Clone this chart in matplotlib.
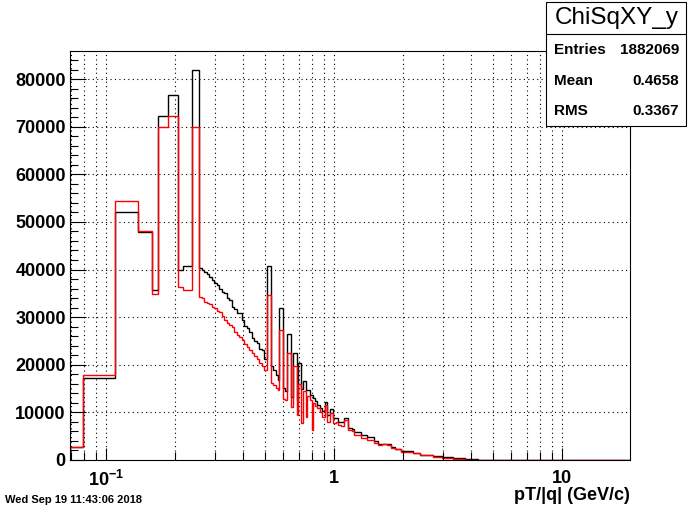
import numpy as np
import matplotlib
matplotlib.use('Agg')
from matplotlib import pyplot as plt
from matplotlib.ticker import FixedLocator, NullFormatter, MultipleLocator

plt.rcParams['font.family'] = ['Liberation Sans', 'DejaVu Sans']
plt.rcParams['mathtext.fontset'] = 'custom'
plt.rcParams['mathtext.rm'] = 'Liberation Sans'
plt.rcParams['mathtext.bf'] = 'Liberation Sans:bold'

# bin edges given as log10(pT/|q|)
coarse_edges = [-1.1579, -1.1009, -0.9605, -0.8596, -0.8004, -0.7732,
                -0.7281, -0.6829, -0.6610, -0.6215, -0.5908]
fine_edges = np.linspace(-0.5908, -0.2947, 28)
tail_edges = [-0.2947, -0.2763, -0.2662, -0.2557, -0.2465, -0.2399, -0.2224,
              -0.2136, -0.2048, -0.1886, -0.1785, -0.1636, -0.1566, -0.1461,
              -0.1373, -0.1241, -0.1171, -0.1066, -0.0978, -0.0934, -0.0833,
              -0.0732, -0.0614, -0.0513, -0.0395, -0.0320, -0.0175, -0.0031,
              0.0075, 0.0189, 0.0294, 0.0439, 0.0627, 0.0776, 0.0890, 0.1022,
              0.1171, 0.1285, 0.1434, 0.1579, 0.1754, 0.1943, 0.2118, 0.2311,
              0.2487, 0.2675, 0.2925, 0.3478, 0.3772, 0.4355, 0.4724, 0.5232,
              0.5746, 0.6316, 1.2982]

# black histogram (all)
coarse_black = [2700, 17200, 52100, 47800, 35600, 72200, 76700, 39900, 40800, 81900]
fine_black = [40400, 39900, 39400, 39000, 38500, 37800, 37100, 36700, 35900,
              35300, 35000, 34100, 33600, 32200, 31700, 30900, 30800, 29300,
              28200, 27700, 26900, 25700, 24900, 24500, 23300, 23000, 21300]
tail_black = [40700, 19700, 18900, 17900, 16700, 31900, 15100, 14400, 26500,
              13300, 22400, 12500, 20300, 15000, 16500, 14700, 14700, 13650,
              13650, 12950, 12460, 11550, 10850, 10360, 12250, 9500, 10650,
              8750, 8800, 8050, 8000, 8900, 6650, 6550, 5950, 5850, 5250, 5250,
              4900, 4770, 4000, 3360, 3450, 3300, 2800, 2380, 1890, 1400, 1120,
              840, 560, 350, 140, 0]

# red histogram (selected)
coarse_red = [2700, 17800, 54400, 48000, 34900, 69900, 72300, 36300, 35700, 69900]
fine_red = [34200, 34000, 33100, 32900, 32800, 32100, 31900, 31200, 31000,
            30300, 29400, 28800, 28400, 27900, 26800, 26300, 25800, 25100,
            24400, 23800, 23100, 22400, 21800, 21200, 20400, 19700, 19000]
tail_red = [34700, 16200, 15800, 15100, 14700, 27300, 12750, 12500, 22500,
            11200, 19700, 9400, 16000, 7800, 14500, 9000, 13450, 12600, 6300,
            11900, 11350, 10850, 10150, 9100, 11550, 8050, 9800, 7700, 8000,
            7350, 7100, 8400, 6300, 6100, 5250, 5250, 4550, 4700, 4200, 4200,
            3640, 3080, 3300, 3100, 2590, 2380, 1750, 1400, 980, 700, 420, 210,
            80, 0]

stat_names = ['Entries', 'Mean', 'RMS']
stat_values = ['1882069', '0.4658', '0.3367']
hist_name = 'ChiSqXY_y'
date_text = 'Wed Sep 19 11:43:06 2018'

edges = 10 ** np.concatenate([coarse_edges[:-1], fine_edges[:-1], tail_edges])
black = np.array(coarse_black + fine_black + tail_black)
red = np.array(coarse_red + fine_red + tail_red)

fig = plt.figure(figsize=(7, 5.12), dpi=100)
ax = fig.add_axes([0.1, 0.1016, 0.8, 0.7988])

ax.stairs(black, edges, color='black', lw=1.0, baseline=0)
ax.stairs(red, edges, color='red', lw=1.0, baseline=0)

ax.set_xscale('log')
ax.set_xlim(edges[0], edges[-1])
ax.set_ylim(0, 85900)

major_x = [0.1, 1, 10]
minor_x = [m * d for d in [0.01, 0.1, 1] for m in range(2, 10)]
ax.xaxis.set_major_locator(FixedLocator(major_x))
ax.xaxis.set_minor_locator(FixedLocator(minor_x))
ax.xaxis.set_minor_formatter(NullFormatter())
ax.set_xticklabels([r'$\mathbf{10^{-1}}$', '1', '10'])
ax.yaxis.set_major_locator(MultipleLocator(10000))
ax.yaxis.set_minor_locator(MultipleLocator(2000))

ax.tick_params(which='both', direction='in', top=False, right=False)
ax.tick_params(axis='x', which='major', length=9, width=0.8, pad=7, labelsize=13)
ax.tick_params(axis='x', which='minor', length=6, width=0.8)
ax.tick_params(axis='y', which='major', length=11.5, width=0.8, pad=3, labelsize=13)
ax.tick_params(axis='y', which='minor', length=5.8, width=0.8)
for lab in ax.get_xticklabels() + ax.get_yticklabels():
    lab.set_fontweight('bold')

for xv in major_x + minor_x:
    if edges[0] < xv < edges[-1]:
        ax.axvline(xv, color='black', lw=0.8, ls=(0, (1, 3)), zorder=0)
for yv in range(10000, 90000, 10000):
    ax.axhline(yv, color='black', lw=0.8, ls=(0, (1, 3)), zorder=0)

for sp in ax.spines.values():
    sp.set_linewidth(0.8)

fig.text(630 / 700, 1 - 496 / 512, 'pT/|q| (GeV/c)', ha='right', va='center',
         fontsize=13, fontweight='bold')
fig.text(5 / 700, 1 - 500 / 512, date_text, ha='left', va='center',
         fontsize=8, fontweight='bold')

# stats box
box = plt.Rectangle((546 / 700, 1 - 126 / 512), 140 / 700, 124 / 512,
                    transform=fig.transFigure, fc='white', ec='black', lw=0.8, zorder=5)
fig.add_artist(box)
fig.add_artist(plt.Line2D([546 / 700, 686 / 700], [1 - 34 / 512, 1 - 34 / 512],
                          transform=fig.transFigure, color='black', lw=0.8, zorder=6))
fig.text(617 / 700, 1 - 18 / 512, hist_name, ha='center', va='center',
         fontsize=17.5, zorder=7)
rows_y = [50, 81, 111]
for name, val, yp in zip(stat_names, stat_values, rows_y):
    fig.text(554 / 700, 1 - yp / 512, name, ha='left', va='center',
             fontsize=11, fontweight='bold', zorder=7)
    fig.text(679 / 700, 1 - yp / 512, val, ha='right', va='center',
             fontsize=11, fontweight='bold', zorder=7)

fig.savefig('out.png', dpi=100)
